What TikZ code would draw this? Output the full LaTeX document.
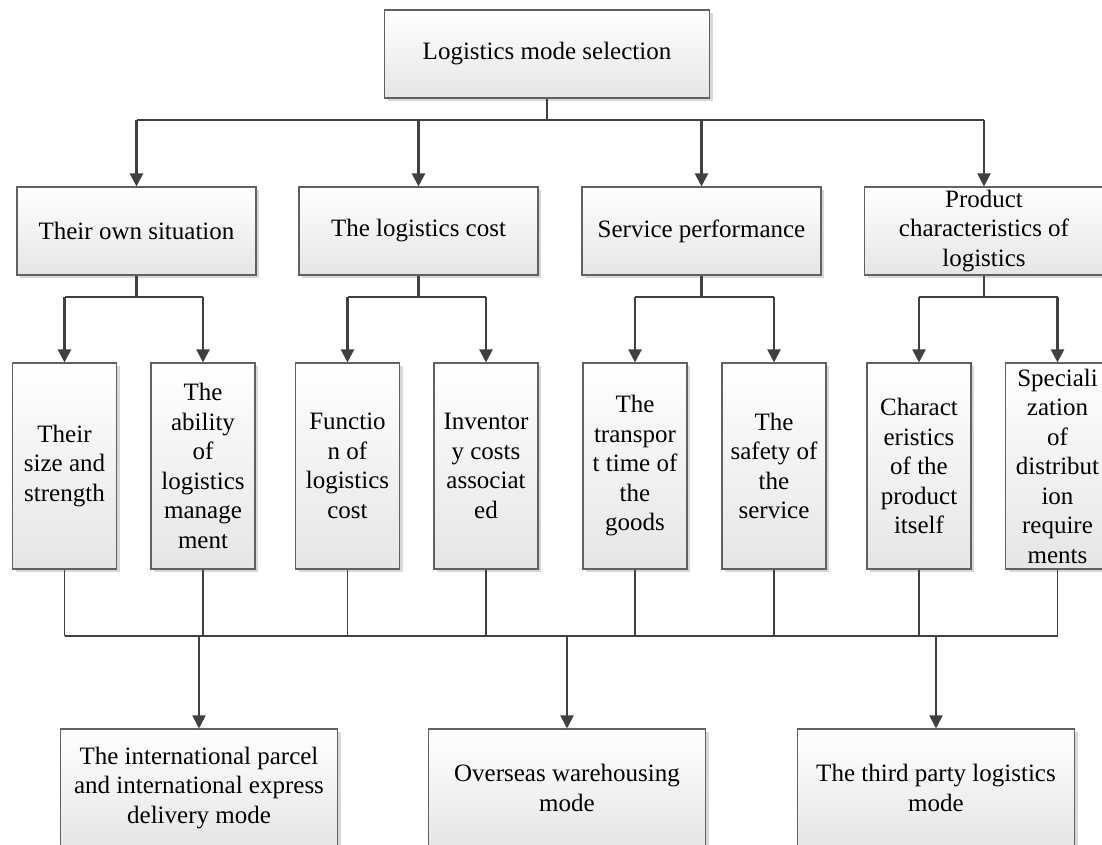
\documentclass[tikz,border=0pt]{standalone}
\usepackage{fontspec}
\setmainfont{Liberation Serif}
\usepackage{tikz}
\usetikzlibrary{arrows.meta,shadows}

\tikzset{
  box/.style={draw=black!62, line width=1.1pt, top color=white, bottom color=black!10,
    inner sep=0pt, align=center, font=\fontsize{25}{29.5}\selectfont,
    drop shadow={shadow xshift=3pt, shadow yshift=-3pt, fill=black!22, opacity=0.7}},
  headbox/.style={box, minimum width=239pt, minimum height=88pt},
  tallbox/.style={box, minimum width=104pt, minimum height=206pt},
  modebox/.style={box, minimum width=277pt, minimum height=118pt},
  link/.style={draw=black!75, line width=2.1pt},
  thinlink/.style={draw=black!75, line width=1.8pt},
  arr/.style={link, -{Triangle[length=13pt,width=13pt]}},
  thinarr/.style={thinlink, -{Triangle[length=13pt,width=13pt]}}
}

\begin{document}
\begin{tikzpicture}[x=1pt,y=-1pt]
		\useasboundingbox (0,0) rectangle (1102,844);
		\clip (0,0) rectangle (1102,844);

		%% Bus lines
		\coordinate (busA) at (0,120);
		\coordinate (subbus) at (0,297);
		\coordinate (busB) at (0,636);

		%% Root
		\node[box, minimum width=325pt, minimum height=88pt] (sel) at (547,54) {Logistics mode selection};

		%% Factors
		\node[headbox] (own) at (136.5,231) {Their own situation};
		\node[headbox] (cost) at (418.5,231) {The logistics cost};
		\node[headbox] (serv) at (701.5,231) {Service performance};
		\node[headbox] (prod) at (984,231) {Product\\characteristics of\\logistics};

		%% Sub factors
		\node[tallbox] (size) at (64.5,466) {Their\\size and\\strength};
		\node[tallbox] (abil) at (203,466) {The\\ability\\of\\logistics\\manage\\ment};
		\node[tallbox] (func) at (347.5,466) {Functio\\n of\\logistics\\cost};
		\node[tallbox] (inv) at (486,466) {Inventor\\y costs\\associat\\ed};
		\node[tallbox] (trans) at (635,466) {The\\transpor\\t time of\\the\\goods};
		\node[tallbox] (safe) at (774,466) {The\\safety of\\the\\service};
		\node[tallbox] (char) at (919,466) {Charact\\eristics\\of the\\product\\itself};
		\node[tallbox] (spec) at (1057.5,466) {Speciali\\zation\\of\\distribut\\ion\\require\\ments};

		%% Modes
		\node[modebox] (parcel) at (199,788) {The international parcel\\and international express\\delivery mode};
		\node[modebox] (oversea) at (567,788) {Overseas warehousing\\mode};
		\node[modebox] (third) at (936,788) {The third party logistics\\mode};

		%% Root to factors
		\draw[link] (sel.south) -- (sel.south |- busA);
		\draw[link] (own.north |- busA) -- (prod.north |- busA);
		\foreach \n in {own,cost,serv,prod}
			\draw[arr] (\n.north |- busA) -- (\n.north);

		%% Factors to sub factors
		\foreach \p/\a/\b in {own/size/abil, cost/func/inv, serv/trans/safe, prod/char/spec} {
			\draw[link] (\p.south) -- (\p.south |- subbus);
			\draw[link] (\a.north |- subbus) -- (\b.north |- subbus);
			\draw[arr] (\a.north |- subbus) -- (\a.north);
			\draw[arr] (\b.north |- subbus) -- (\b.north);
		}

		%% Sub factors to modes
		\foreach \n in {size,abil,func,inv,trans,safe,char,spec}
			\draw[thinlink] (\n.south) -- (\n.south |- busB);
		\draw[thinlink] (size.south |- busB) -- (spec.south |- busB);
		\draw[thinarr] (parcel.north |- busB) -- (parcel.north);
		\draw[arr] (oversea.north |- busB) -- (oversea.north);
		\draw[thinarr] (third.north |- busB) -- (third.north);
	\end{tikzpicture}
\end{document}
